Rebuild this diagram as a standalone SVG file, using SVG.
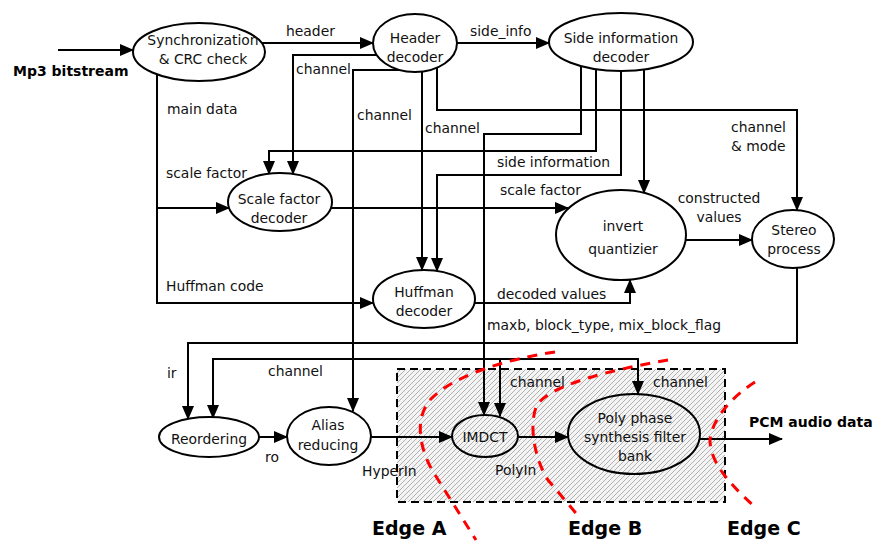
<svg xmlns="http://www.w3.org/2000/svg" width="876" height="542" viewBox="0 0 876 542">
  <style>
    .node ellipse { fill: #ffffff; stroke: #000000; stroke-width: 2; }
    .node.open ellipse { fill: none; }
    text { font-family: "DejaVu Sans", Verdana, sans-serif; font-size: 13.9px; fill: #111111; }
    .c { text-anchor: middle; }
    .bold { font-weight: bold; font-size: 14px; fill: #000000; }
    .edge { font-weight: bold; font-size: 19px; fill: #000000; }
    .wire { fill: none; stroke: #000000; stroke-width: 2; }
    .arrow { marker-end: url(#head); }
    .cut { fill: none; stroke: #ff0000; stroke-width: 3; stroke-dasharray: 10 8; }
  </style>
  <defs>
    <marker id="head" markerUnits="userSpaceOnUse" markerWidth="14" markerHeight="12" viewBox="0 0 14 12" refX="13" refY="6" orient="auto">
      <path d="M0,0 L14,6 L0,12 z" fill="#000000"/>
    </marker>
    <pattern id="hatch" patternUnits="userSpaceOnUse" width="5" height="5">
      <rect width="5" height="5" fill="#f4f4f4"/>
      <path d="M-1,1 L1,-1 M0,5 L5,0 M4,6 L6,4" stroke="#a8a8a8" stroke-width="0.9"/>
    </pattern>
  </defs>

  <rect width="876" height="542" fill="#ffffff"/>

  <!-- shaded processing region -->
  <rect id="region" x="397" y="369" width="328" height="133" fill="url(#hatch)" stroke="#000000" stroke-width="2" stroke-dasharray="8 5"/>

  <!-- connectors -->
  <g id="connectors">
    <path class="wire arrow" d="M58,50 H133"/>
    <path class="wire arrow" d="M262,43 H373"/>
    <path class="wire arrow" d="M457,43 H549"/>
    <path class="wire arrow" d="M157,74 V303 H373"/>
    <path class="wire arrow" d="M157,208 H229"/>
    <path class="wire arrow" d="M377,55 H293 V174"/>
    <path class="wire arrow" d="M400,70 H353 V411"/>
    <path class="wire arrow" d="M422,72 V270"/>
    <path class="wire arrow" d="M437,67 V110 H797 V210"/>
    <path class="wire arrow" d="M581,66 V134 H484 V415"/>
    <path class="wire arrow" d="M596,69 V151 H269 V174"/>
    <path class="wire arrow" d="M621,71 V175 H437 V271"/>
    <path class="wire arrow" d="M644,69 V193"/>
    <path class="wire arrow" d="M331,208 H568"/>
    <path class="wire arrow" d="M474,303 H630 V280"/>
    <path class="wire arrow" d="M686,240 H752"/>
    <path class="wire arrow" d="M797,268 V343 H188 V419"/>
    <path class="wire arrow" d="M500,359 H213 V418"/>
    <path class="wire arrow" d="M500,359 V416"/>
    <path class="wire arrow" d="M499,359 H638 V394"/>
    <path class="wire arrow" d="M259,437 H287"/>
    <path class="wire arrow" d="M371,437 H452"/>
    <path class="wire arrow" d="M518,437 H568"/>
    <path class="wire arrow" d="M700,439 H782"/>
  </g>

  <!-- nodes -->
  <g id="sync" class="node">
    <ellipse cx="199" cy="52" rx="66" ry="29"/>
    <text class="c" x="203" y="45">Synchronization</text>
    <text class="c" x="203" y="64">&amp; CRC check</text>
  </g>
  <g id="header-decoder" class="node">
    <ellipse cx="415" cy="43" rx="42" ry="29"/>
    <text class="c" x="415" y="43">Header</text>
    <text class="c" x="415" y="62">decoder</text>
  </g>
  <g id="side-info-decoder" class="node">
    <ellipse cx="621" cy="42" rx="72" ry="29"/>
    <text class="c" x="621" y="43">Side information</text>
    <text class="c" x="621" y="62">decoder</text>
  </g>
  <g id="scale-factor-decoder" class="node">
    <ellipse cx="280" cy="202" rx="52" ry="29"/>
    <text class="c" x="279" y="204">Scale factor</text>
    <text class="c" x="279" y="223">decoder</text>
  </g>
  <g id="huffman-decoder" class="node">
    <ellipse cx="424" cy="299" rx="51" ry="29"/>
    <text class="c" x="424" y="297">Huffman</text>
    <text class="c" x="424" y="316">decoder</text>
  </g>
  <g id="invert-quantizer" class="node">
    <ellipse cx="621" cy="235" rx="65" ry="45"/>
    <text class="c" x="623" y="231">invert</text>
    <text class="c" x="623" y="254">quantizier</text>
  </g>
  <g id="stereo-process" class="node">
    <ellipse cx="793" cy="239" rx="41" ry="29"/>
    <text class="c" x="794" y="235">Stereo</text>
    <text class="c" x="794" y="254">process</text>
  </g>
  <g id="reordering" class="node">
    <ellipse cx="209" cy="437" rx="50" ry="20"/>
    <text class="c" x="209" y="444">Reordering</text>
  </g>
  <g id="alias-reducing" class="node">
    <ellipse cx="329" cy="436" rx="42" ry="29"/>
    <text class="c" x="328" y="430">Alias</text>
    <text class="c" x="328" y="450">reducing</text>
  </g>
  <g id="imdct" class="node open">
    <ellipse cx="485" cy="436" rx="33" ry="21"/>
    <text class="c" x="485" y="442">IMDCT</text>
  </g>
  <g id="polyphase" class="node open">
    <ellipse cx="634" cy="434" rx="66" ry="40"/>
    <text class="c" x="635" y="423">Poly phase</text>
    <text class="c" x="635" y="442">synthesis filter</text>
    <text class="c" x="635" y="461">bank</text>
  </g>

  <!-- connector labels -->
  <g id="labels">
    <text class="bold" x="13" y="76">Mp3 bitstream</text>
    <text x="286" y="36">header</text>
    <text x="470" y="36">side_info</text>
    <text x="296" y="74">channel</text>
    <text x="167" y="114">main data</text>
    <text x="357" y="120">channel</text>
    <text x="425" y="133">channel</text>
    <text x="731" y="132">channel</text>
    <text x="731" y="151">&amp; mode</text>
    <text x="497" y="167">side information</text>
    <text x="166" y="178">scale factor</text>
    <text x="500" y="195">scale factor</text>
    <text class="c" x="719" y="203">constructed</text>
    <text class="c" x="719" y="222">values</text>
    <text x="166" y="291">Huffman code</text>
    <text x="497" y="299">decoded values</text>
    <text x="487" y="330">maxb, block_type, mix_block_flag</text>
    <text x="167" y="378">ir</text>
    <text x="268" y="376">channel</text>
    <text x="510" y="387">channel</text>
    <text x="653" y="387">channel</text>
    <text x="265" y="462">ro</text>
    <text x="362" y="476">HyperIn</text>
    <text x="495" y="475">PolyIn</text>
    <text class="bold" x="749" y="427">PCM audio data</text>
  </g>

  <!-- partition cuts -->
  <g id="cuts">
    <path class="cut" d="M555,352 C500,360 450,378 430,400 C414,420 420,448 432,470 L476,540"/>
    <path class="cut" d="M668,360 C610,370 550,385 537,405 C528,425 535,460 548,480 L580,518"/>
    <path class="cut" d="M755,382 C730,398 712,420 710,440 C710,460 725,480 755,507"/>
    <text class="edge" x="372" y="535">Edge A</text>
    <text class="edge" x="568" y="535">Edge B</text>
    <text class="edge" x="727" y="535">Edge C</text>
  </g>
</svg>
